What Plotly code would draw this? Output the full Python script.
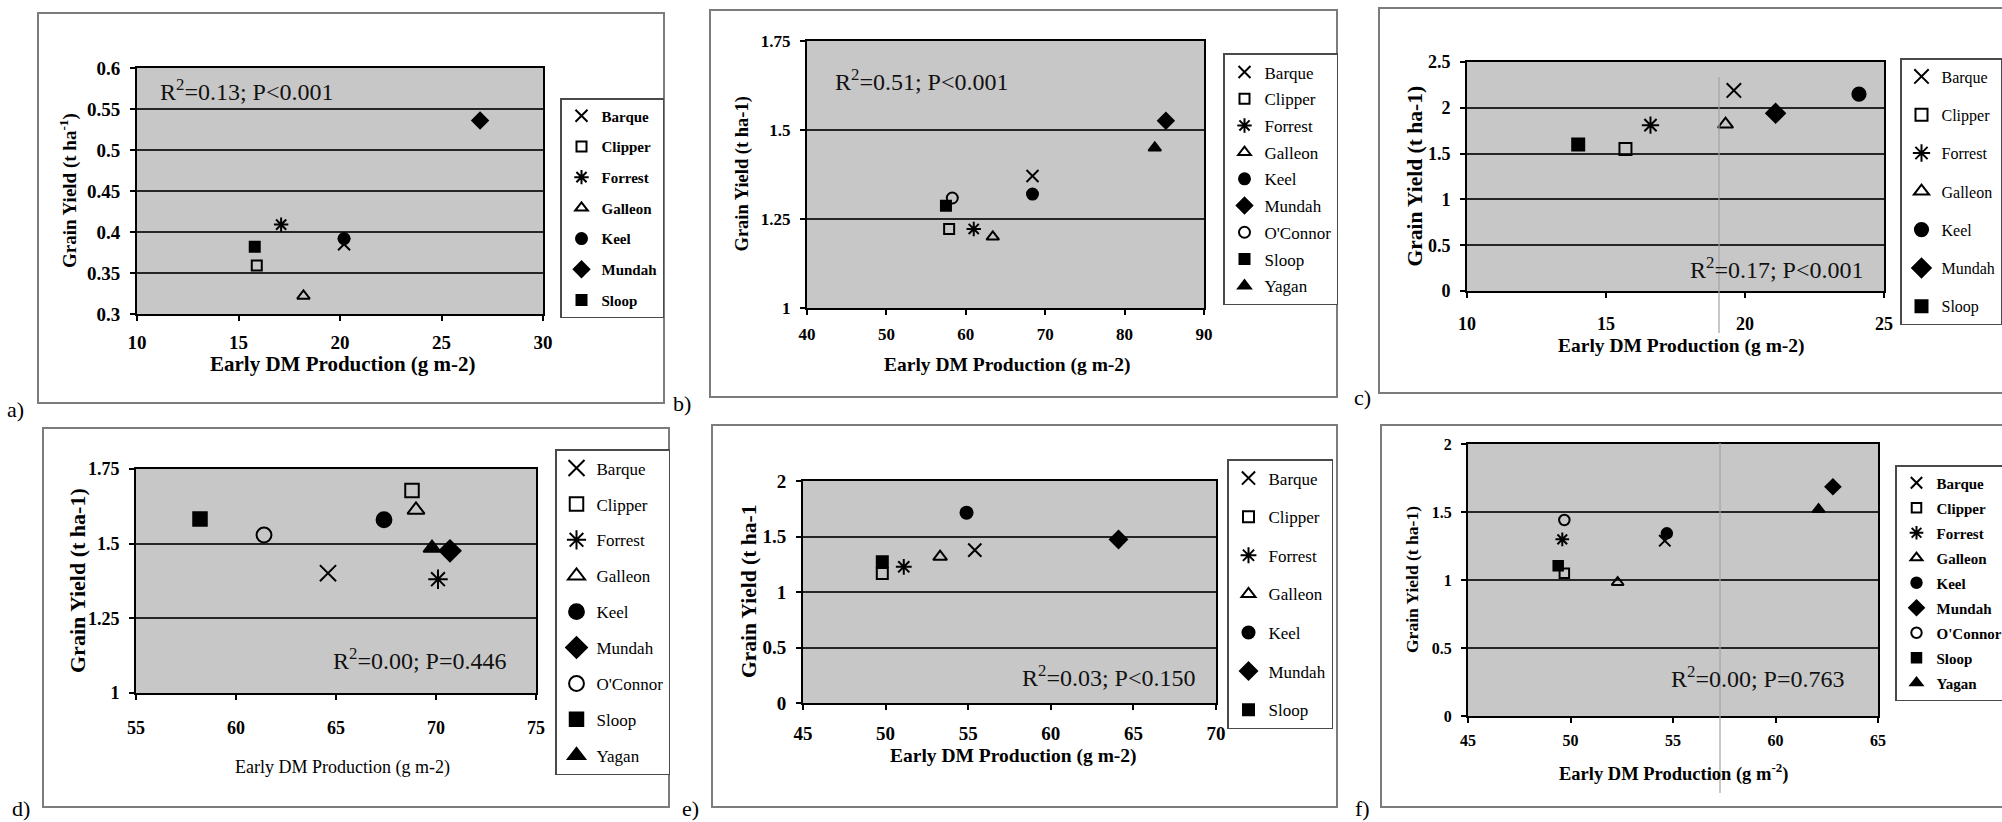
import plotly.graph_objects as go

W, H = 2002, 822
SERIF = "Liberation Serif, Times New Roman, serif"

VARIETIES_7 = ["Barque", "Clipper", "Forrest", "Galleon", "Keel", "Mundah", "Sloop"]
VARIETIES_9 = ["Barque", "Clipper", "Forrest", "Galleon", "Keel", "Mundah",
               "O'Connor", "Sloop", "Yagan"]

# a) early DM vs grain yield
a_dm = [20.2, 15.9, 17.1, 18.2, 20.2, 26.9, 15.8]
a_yield = [0.385, 0.359, 0.409, 0.322, 0.392, 0.536, 0.382]
a_xticks = [10, 15, 20, 25, 30]
a_yticks = [0.3, 0.35, 0.4, 0.45, 0.5, 0.55, 0.6]
a_ytext = ["0.3", "0.35", "0.4", "0.45", "0.5", "0.55", "0.6"]
a_stats = "R<sup>2</sup>=0.13; P&lt;0.001"

# b)
b_dm = [68.4, 57.9, 61.0, 63.4, 68.4, 85.2, 58.3, 57.5, 83.8]
b_yield = [1.371, 1.222, 1.222, 1.200, 1.320, 1.526, 1.309, 1.287, 1.450]
b_xticks = [40, 50, 60, 70, 80, 90]
b_yticks = [1, 1.25, 1.5, 1.75]
b_ytext = ["1", "1.25", "1.5", "1.75"]
b_stats = "R<sup>2</sup>=0.51; P&lt;0.001"

# c)
c_dm = [19.6, 15.7, 16.6, 19.3, 24.1, 21.1, 14.0]
c_yield = [2.19, 1.55, 1.81, 1.82, 2.15, 1.94, 1.60]
c_xticks = [10, 15, 20, 25]
c_yticks = [0, 0.5, 1, 1.5, 2, 2.5]
c_ytext = ["0", "0.5", "1", "1.5", "2", "2.5"]
c_stats = "R<sup>2</sup>=0.17; P&lt;0.001"

# d)
d_dm = [64.6, 68.8, 70.1, 69.0, 67.4, 70.7, 61.4, 58.2, 69.8]
d_yield = [1.401, 1.678, 1.381, 1.613, 1.580, 1.476, 1.529, 1.583, 1.485]
d_xticks = [55, 60, 65, 70, 75]
d_yticks = [1, 1.25, 1.5, 1.75]
d_ytext = ["1", "1.25", "1.5", "1.75"]
d_stats = "R<sup>2</sup>=0.00; P=0.446"

# e)
e_dm = [55.4, 49.8, 51.1, 53.3, 54.9, 64.1, 49.8]
e_yield = [1.377, 1.167, 1.227, 1.317, 1.714, 1.474, 1.272]
e_xticks = [45, 50, 55, 60, 65, 70]
e_yticks = [0, 0.5, 1, 1.5, 2]
e_ytext = ["0", "0.5", "1", "1.5", "2"]
e_stats = "R<sup>2</sup>=0.03; P&lt;0.150"

# f)
f_dm = [54.6, 49.7, 49.6, 52.3, 54.7, 62.8, 49.7, 49.4, 62.1]
f_yield = [1.289, 1.049, 1.299, 0.983, 1.343, 1.686, 1.441, 1.105, 1.520]
f_xticks = [45, 50, 55, 60, 65]
f_yticks = [0, 0.5, 1, 1.5, 2]
f_ytext = ["0", "0.5", "1", "1.5", "2"]
f_stats = "R<sup>2</sup>=0.00; P=0.763"

XTITLE = "Early DM Production (g m-2)"
YTITLE = "Grain Yield (t ha-1)"

# marker style per variety: symbol, base size
SYMBOLS = {
    "Barque": ("x-thin-open", 12),
    "Clipper": ("square-open", 10),
    "Forrest": ("asterisk-open", 12),
    "Galleon": ("triangle-up-open", 11),
    "Keel": ("circle", 11),
    "Mundah": ("diamond", 12),
    "O'Connor": ("circle-open", 11),
    "Sloop": ("square", 10),
    "Yagan": ("triangle-up", 11),
}


def px(x):
    return x / W


def py(y):
    return 1 - y / H


# pixel geometry of each panel: plot rect, outer frame, legend, text placement
PANELS = [
    dict(key="a", names=VARIETIES_7, x=a_dm, y=a_yield, xt=a_xticks, yt=a_yticks, ytt=a_ytext,
         xr=[10, 30], yr=[0.3, 0.6], stats=a_stats,
         plot=(137, 68, 543, 314), frame=(38, 13, 664, 403), lab=(15, 410),
         leg=(560, 98, 15, "bold", 8.2), tick=19, xstand=5, mscale=1.0,
         ytitle=("Grain Yield (t ha<sup>-1</sup>)", 68, 19), xtitle=(XTITLE, 343, 364, 21, "bold"),
         st=(158, 90)),
    dict(key="b", names=VARIETIES_9, x=b_dm, y=b_yield, xt=b_xticks, yt=b_yticks, ytt=b_ytext,
         xr=[40, 90], yr=[1, 1.75], stats=b_stats,
         plot=(807, 41, 1204, 308), frame=(710, 10, 1337, 397), lab=(682, 403),
         leg=(1223, 53, 17, "normal", 1.6), tick=17, xstand=5, mscale=1.0,
         ytitle=(YTITLE, 742, 18.5), xtitle=(XTITLE, 1007, 365, 19.5, "bold"),
         st=(833, 80)),
    dict(key="c", names=VARIETIES_7, x=c_dm, y=c_yield, xt=c_xticks, yt=c_yticks, ytt=c_ytext,
         xr=[10, 25], yr=[0, 2.5], stats=c_stats,
         plot=(1467, 62, 1884, 291), frame=(1379, 8, 2010, 393), lab=(1362, 397),
         leg=(1900, 58, 16, "normal", 14.5), tick=18, xstand=10, mscale=1.2,
         ytitle=(YTITLE, 1414, 21.5), xtitle=(XTITLE, 1681, 346, 19.5, "bold"),
         st=(1688, 268)),
    dict(key="d", names=VARIETIES_9, x=d_dm, y=d_yield, xt=d_xticks, yt=d_yticks, ytt=d_ytext,
         xr=[55, 75], yr=[1, 1.75], stats=d_stats,
         plot=(136, 469, 536, 693), frame=(43, 428, 669, 807), lab=(21, 808),
         leg=(555, 449, 17, "normal", 10.8), tick=18, xstand=12, mscale=1.35,
         ytitle=(YTITLE, 77, 22), xtitle=(XTITLE, 342, 767, 18, "normal"),
         st=(331, 659)),
    dict(key="e", names=VARIETIES_7, x=e_dm, y=e_yield, xt=e_xticks, yt=e_yticks, ytt=e_ytext,
         xr=[45, 70], yr=[0, 2], stats=e_stats,
         plot=(803, 481, 1216, 703), frame=(712, 425, 1337, 807), lab=(690, 808),
         leg=(1227, 459, 17, "normal", 13.5), tick=19, xstand=7, mscale=1.1,
         ytitle=("Grain Yield (t ha-1", 749, 21.5), xtitle=(XTITLE, 1013, 756, 19.5, "bold"),
         st=(1020, 676)),
    dict(key="f", names=VARIETIES_9, x=f_dm, y=f_yield, xt=f_xticks, yt=f_yticks, ytt=f_ytext,
         xr=[45, 65], yr=[0, 2], stats=f_stats,
         plot=(1468, 444, 1878, 716), frame=(1381, 425, 2010, 807), lab=(1362, 808),
         leg=(1895, 465, 15, "bold", 2.5), tick=16, xstand=4, mscale=0.95,
         ytitle=(YTITLE, 1412, 17.5),
         xtitle=("Early DM Production (g m<sup>-2</sup>)", 1673, 772, 18.5, "bold"),
         st=(1669, 677)),
]

# faint vertical fold marks crossing panels c and f (pixel x, top, bottom)
FOLDS = [(1719, 77, 333), (1720, 443, 793)]

fig = go.Figure()
shapes, annotations, layout_axes = [], [], {}

for i, p in enumerate(PANELS, start=1):
    sfx = "" if i == 1 else str(i)
    legend_id = "legend" if i == 1 else f"legend{i}"
    for name, xv, yv in zip(p["names"], p["x"], p["y"]):
        sym, size = SYMBOLS[name]
        fig.add_trace(go.Scatter(
            x=[xv], y=[yv], mode="markers", name=name,
            xaxis=f"x{sfx}", yaxis=f"y{sfx}",
            legend=legend_id, legendgroup=f"{p['key']}-{name}",
            marker=dict(symbol=sym, size=size * p["mscale"], color="black",
                        line=dict(color="black", width=2)),
            hoverinfo="skip",
        ))

    x0, y0, x1, y1 = p["plot"]
    axis_common = dict(showline=True, linecolor="black", linewidth=2, mirror=True,
                       ticks="outside", ticklen=5, tickcolor="black", tickwidth=1.5,
                       zeroline=False, fixedrange=True)
    layout_axes[f"xaxis{sfx}"] = dict(
        axis_common, domain=[px(x0), px(x1)], range=p["xr"], anchor=f"y{sfx}",
        tickvals=p["xt"], ticktext=[str(v) for v in p["xt"]], showgrid=False,
        tickfont=dict(family=SERIF, size=p["tick"], color="black", weight="bold"),
        ticklabelstandoff=p["xstand"])
    layout_axes[f"yaxis{sfx}"] = dict(
        axis_common, domain=[py(y1), py(y0)], range=p["yr"], anchor=f"x{sfx}",
        tickvals=p["yt"], ticktext=p["ytt"], showgrid=True,
        gridcolor="#262626", gridwidth=1.5,
        tickfont=dict(family=SERIF, size=p["tick"], color="black", weight="bold"),
        ticklabelstandoff=6)

    lx, ly, lfs, lweight, lgap = p["leg"]
    layout_axes[legend_id] = dict(
        x=px(lx), y=py(ly), xanchor="left", yanchor="top",
        bgcolor="white", bordercolor="#4a4a4a", borderwidth=1.5,
        font=dict(family=SERIF, size=lfs, color="black", weight=lweight),
        traceorder="grouped", tracegroupgap=lgap, itemwidth=30)

    fx0, fy0, fx1, fy1 = p["frame"]
    shapes.append(dict(type="rect", xref="paper", yref="paper",
                       x0=px(fx0), x1=px(fx1), y0=py(fy1), y1=py(fy0),
                       line=dict(color="#7c7c7c", width=2), layer="below"))

    annotations.append(dict(text=f"{p['key']})", x=px(p["lab"][0]), y=py(p["lab"][1]),
                            xref="paper", yref="paper", showarrow=False,
                            xanchor="center", yanchor="middle",
                            font=dict(family=SERIF, size=22, color="black")))
    annotations.append(dict(text=p["stats"], x=px(p["st"][0]), y=py(p["st"][1]),
                            xref="paper", yref="paper", showarrow=False,
                            xanchor="left", yanchor="middle",
                            font=dict(family=SERIF, size=24, color="#111111")))
    yt_text, yt_x, yt_fs = p["ytitle"]
    annotations.append(dict(text=yt_text, x=px(yt_x), y=py((y0 + y1) / 2),
                            xref="paper", yref="paper", showarrow=False, textangle=-90,
                            xanchor="center", yanchor="middle",
                            font=dict(family=SERIF, size=yt_fs, color="black", weight="bold")))
    xt_text, xt_x, xt_y, xt_fs, xt_w = p["xtitle"]
    annotations.append(dict(text=xt_text, x=px(xt_x), y=py(xt_y),
                            xref="paper", yref="paper", showarrow=False,
                            xanchor="center", yanchor="middle",
                            font=dict(family=SERIF, size=xt_fs, color="black", weight=xt_w)))

for fx, ft, fb in FOLDS:
    shapes.append(dict(type="line", xref="paper", yref="paper",
                       x0=px(fx), x1=px(fx), y0=py(fb), y1=py(ft),
                       line=dict(color="#a3a3a3", width=1.2), layer="above"))

fig.update_layout(
    width=W, height=H, autosize=False,
    margin=dict(l=0, r=0, t=0, b=0, pad=0, autoexpand=False),
    paper_bgcolor="white", plot_bgcolor="#c7c7c7",
    font=dict(family=SERIF, color="black"),
    shapes=shapes, annotations=annotations,
    **layout_axes,
)

fig.write_html("out.html")
